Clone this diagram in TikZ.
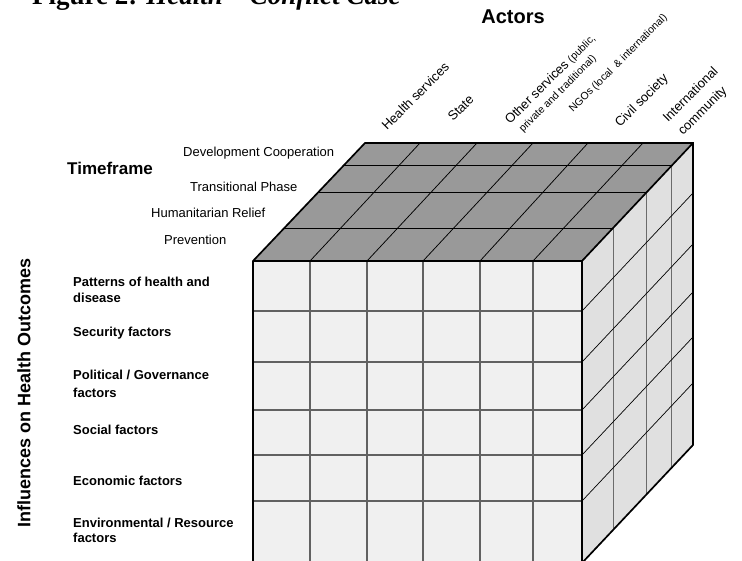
\documentclass[tikz,border=0pt]{standalone}
\usepackage{fontspec}
\setmainfont{Liberation Sans}
\newfontfamily\titlefont{Liberation Serif}

\begin{document}
\begin{tikzpicture}[x=1pt,y=-1pt,
  topface/.style={fill=black!40},
  frontface/.style={fill=black!6},
  sideface/.style={fill=black!12},
  outline/.style={draw=black, line width=1.7pt, line join=miter},
  frontgrid/.style={draw=black!62, line width=1.1pt},
  topgrid/.style={draw=black, line width=0.75pt},
  sidegrid/.style={draw=black!58, line width=1.1pt},
  sidediag/.style={draw=black, line width=0.7pt},
  txt/.style={inner sep=0pt, anchor=base west, font=\fontsize{13}{15}\selectfont},
  factor/.style={inner sep=0pt, anchor=base west, font=\bfseries\fontsize{13}{15}\selectfont},
  actor/.style={inner sep=0pt, anchor=base west, rotate=45, font=\fontsize{13}{15}\selectfont},
  smallactor/.style={actor, font=\fontsize{10.5}{12}\selectfont},
]
\useasboundingbox (0,0) rectangle (742,561);

% cube corners
\coordinate (FTL) at (253,261);
\coordinate (FTR) at (582,261);
\coordinate (FBL) at (253,563);
\coordinate (FBR) at (582,563);
\coordinate (BTL) at (365,143);
\coordinate (BTR) at (693,143);
\coordinate (BBR) at (693,445);

% faces
\path[topface] (FTL) -- (BTL) -- (BTR) -- (FTR) -- cycle;
\path[frontface] (FTL) rectangle (FBR);
\path[sideface] (FTR) -- (BTR) -- (BBR) -- (FBR) -- cycle;

% front face grid: actors x influences
\foreach \x in {310,367,423,480,533}
  \draw[frontgrid] (\x,261) -- (\x,563);
\foreach \y in {311,362,410,455,501}
  \draw[frontgrid] (253,\y) -- (582,\y);

% top face grid: actors x timeframe
\foreach \f in {0.28,0.58,0.81}
  \draw[topgrid] ({253+112*\f},{261-118*\f}) -- ({582+111*\f},{261-118*\f});
\foreach \a/\b in {310/420,367/477,423/533,480/588,533/643}
  \draw[topgrid] (\a,261) -- (\b,143);

% side face grid: timeframe x influences
\foreach \f in {0.28,0.58,0.81}
  \draw[sidegrid] ({582+111*\f},{261-118*\f}) -- ({582+111*\f},{563-118*\f});
\foreach \y in {311,362,410,455,501}
  \draw[sidediag] (582,\y) -- (693,{\y-118});

% cube outline
\draw[outline] (FTL) -- (BTL) -- (BTR) -- (BBR) -- (FBR) -- (FBL) -- cycle;
\draw[outline] (FTL) -- (FTR) -- (BTR);
\draw[outline] (FTR) -- (FBR);

% title
\node[anchor=base west, inner sep=0pt, font=\titlefont\bfseries\fontsize{27}{30}\selectfont]
  (title) at (32,5) {Figure 2: \textit{Health – Conflict Case}};

% axis headings
\node[inner sep=0pt, font=\bfseries\fontsize{20}{24}\selectfont] (actors) at (513,17) {Actors};
\node[inner sep=0pt, anchor=base west, font=\bfseries\fontsize{17}{20}\selectfont] (timeframe) at (67,175) {Timeframe};
\node[inner sep=0pt, rotate=90, font=\bfseries\fontsize{18}{22}\selectfont] (influences) at (24,393) {Influences on Health Outcomes};

% timeframe rows
\node[txt] (dev) at (183,157) {Development Cooperation};
\node[txt] (trans) at (190,191.5) {Transitional Phase};
\node[txt] (hum) at (151,218) {Humanitarian Relief};
\node[txt] (prev) at (164,245) {Prevention};

% influence rows
\node[factor] (pat1) at (73,287) {Patterns of health and};
\node[factor] (pat2) at (73,303) {disease};
\node[factor] (sec) at (73,337) {Security factors};
\node[factor] (pol1) at (73,380) {Political / Governance};
\node[factor] (pol2) at (73,397) {factors};
\node[factor] (soc) at (73,435) {Social factors};
\node[factor] (eco) at (73,485) {Economic factors};
\node[factor] (env1) at (73,527) {Environmental / Resource};
\node[factor] (env2) at (73,542) {factors};

% actor columns
\node[actor] (hs) at (387,131) {Health services};
\node[actor] (st) at (453,122) {State};
\node[actor] (os1) at (510,125) {Other services {\fontsize{10.5}{12}\selectfont (public,}};
\node[smallactor] (os2) at (523,133) {private and traditional)};
\node[smallactor] (ngo) at (573,113) {NGOs (local \ \& international)};
\node[actor] (cs) at (620,128) {Civil society};
\node[actor] (ic1) at (668,123) {International};
\node[actor] (ic2) at (683,136) {community};
\end{tikzpicture}
\end{document}
